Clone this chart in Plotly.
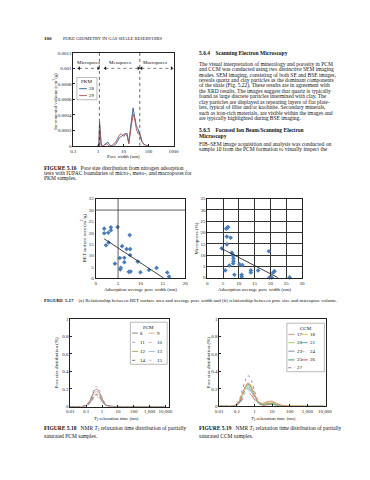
import math
import numpy as np
import plotly.graph_objects as go

W, H = 370, 480
FONT = "Liberation Serif"
NB = "\u00a0"

# ---------------- Figure 5.16 (PKM pore size distribution) ----------------
pore_width_nm = [0.9, 1.05, 1.12, 1.2, 1.3, 1.6, 2.0, 2.4, 2.7, 3.2, 4.0, 4.9, 5.8, 6.7, 8.0, 9.5,
                 10.5, 12.0, 14.1, 16.4, 19.0, 22.0, 24.3, 28.0, 32.8, 38.0, 47.0, 55.0, 64.0, 78.0, 100.0]
pkm_28 = [0, 0, 0.00031, 0.00018, 0.0, 0.0, 0.00003, 0.00005, 0.00002, 0.0, 0.0, 0.00002, 0.00006, 0.0001,
          0.00012, 0.00014, 0.00015, 0.00016, 0.00016, 0.00003, 0.00022, 0.00042, 0.00049, 0.00038, 0.00026,
          0.00022, 0.0001, 0.00005, 0.00003, 0.0, 0]
pkm_29 = [0, 0, 0.00026, 0.00012, 0.00002, 0.0, 0.00003, 0.00001, 0.0, 0.0, 0.00002, 0.00005, 0.0001, 0.00013,
          0.00016, 0.00014, 0.00012, 0.00015, 0.00013, 0.00003, 0.00018, 0.00035, 0.00041, 0.00035, 0.00022,
          0.00016, 0.00015, 0.00006, 0.00002, 0.00001, 0]
pkm_names = ["28", "29"]
pkm_colors = ["#2f5f8a", "#a8505a"]
iupac_bounds_nm = [1.1, 45]
region_labels = ["Micropores", "Mesopores", "Macropores"]
region_label_x = [0.42, 7.5, 180]
region_label_y = 0.00107
arrow_start = [0.17, 1.9, 52]
arrow_end = [1.0, 40, 850]
arrow_level = 0.001
fig16_xticks = [0.1, 1, 10, 100, 1000]
fig16_xticktext = ["0.1", "1", "10", "100", "1000"]
fig16_yticks = [0, 0.0002, 0.0004, 0.0006, 0.0008, 0.001, 0.0012]
fig16_yticktext = ["0", "0.0002", "0.0004", "0.0006", "0.0008", "0.001", "0.0012"]

# ---------------- Figure 5.17 (a) BET area vs pore width ----------------
bet_width_nm = [1.9, 1.9, 2.8, 3.4, 3.4, 4.9, 7.6, 2.3, 2.9, 4.3, 5.4, 5.9, 6.4, 6.4, 6.9, 7.7, 7.7,
                5.5, 5.6, 7.4, 7.8, 9.4, 10.0, 11.9, 13.6, 16.0, 16.4]
bet_area_m2g = [21.8, 19.8, 20.0, 22.4, 21.1, 22.5, 19.0, 14.5, 15.7, 6.4, 8.9, 14.1, 9.0, 7.0, 12.8, 12.8, 10.2,
                3.9, 4.6, 2.8, 2.9, 7.3, 2.6, 3.6, 4.5, 2.5, 0.7]
# ---------------- Figure 5.17 (b) micropores vs pore width ----------------
micro_width_nm = [4.6, 6.0, 6.4, 6.6, 6.2, 7.4, 6.2, 7.8, 8.1, 8.2, 8.3, 8.3, 8.2, 7.0, 5.7, 8.6, 10.2, 11.1,
                  10.9, 10.9, 13.8, 13.8, 16.1, 19.5, 19.7, 20.4, 20.9, 21.3, 26.1]
micro_pct = [13.0, 21.7, 22.3, 22.4, 18.2, 17.7, 14.8, 11.1, 10.2, 9.7, 8.5, 7.3, 6.3, 5.4, 3.2, 1.3, 5.9, 5.6,
             1.3, 0.4, 3.2, 2.3, 3.2, 11.7, 0.1, 0.1, 2.3, 2.9, 0.1]

# ---------------- Figure 5.18 (PCM NMR) ----------------
pcm_t2_ms = [0.01, 0.05, 0.07, 0.1, 0.15, 0.2, 0.3, 0.4, 0.5, 0.7, 1, 1.5, 2, 5, 10, 100, 1000, 10000]
pcm_names = ["8", "9", "11", "10", "12", "13", "14", "15"]
pcm_values = {
    "10": [0, 0.001, 0.004, 0.016, 0.055, 0.106, 0.191, 0.227, 0.226, 0.181, 0.106, 0.039, 0.015, 0.001, 0, 0, 0, 0],
    "8":  [0, 0.001, 0.003, 0.014, 0.048, 0.092, 0.166, 0.197, 0.197, 0.157, 0.092, 0.034, 0.013, 0.001, 0, 0, 0, 0],
    "9":  [0, 0.001, 0.003, 0.012, 0.041, 0.078, 0.141, 0.168, 0.167, 0.133, 0.078, 0.029, 0.011, 0.001, 0, 0, 0, 0],
    "12": [0, 0, 0.002, 0.011, 0.036, 0.069, 0.125, 0.148, 0.148, 0.118, 0.069, 0.026, 0.010, 0.001, 0, 0, 0, 0],
    "14": [0, 0, 0.002, 0.010, 0.034, 0.064, 0.116, 0.138, 0.138, 0.110, 0.064, 0.024, 0.009, 0.001, 0, 0, 0, 0],
    "11": [0, 0, 0.002, 0.009, 0.031, 0.060, 0.108, 0.128, 0.128, 0.102, 0.060, 0.022, 0.009, 0.001, 0, 0, 0, 0],
    "13": [0, 0, 0.002, 0.008, 0.029, 0.055, 0.100, 0.118, 0.118, 0.094, 0.055, 0.020, 0.008, 0.001, 0, 0, 0, 0],
    "15": [0, 0, 0.002, 0.008, 0.026, 0.051, 0.091, 0.108, 0.108, 0.086, 0.051, 0.019, 0.007, 0.001, 0, 0, 0, 0],
}
pcm_colors = {"8": "#7a7a7a", "9": "#f0a07c", "10": "#e49a9a", "11": "#9a9a9a",
              "12": "#a4a050", "13": "#8fb2d4", "14": "#606060", "15": "#c4c4c4"}
pcm_dash = {"8": "solid", "9": "solid", "10": "dot", "11": "dot",
            "12": "dash", "13": "dash", "14": "dot", "15": "dot"}

# ---------------- Figure 5.19 (CCM NMR) ----------------
ccm_t2_ms = [0.01, 0.03, 0.05, 0.07, 0.1, 0.15, 0.2, 0.3, 0.4, 0.5, 0.7, 1, 1.5, 2, 3, 5, 7, 10, 15, 20, 30,
             50, 100, 200, 500, 1000, 10000]
ccm_names = ["17", "18", "20", "21", "23", "24", "25", "26", "27"]
ccm_values = {
    "27": [0, 0.0002, 0.003, 0.010, 0.033, 0.100, 0.179, 0.296, 0.345, 0.345, 0.284, 0.179, 0.080, 0.042, 0.027,
           0.034, 0.039, 0.038, 0.030, 0.021, 0.010, 0.003, 0.0003, 0, 0, 0, 0],
    "18": [0, 0, 0.002, 0.007, 0.026, 0.077, 0.138, 0.229, 0.266, 0.266, 0.219, 0.139, 0.064, 0.038, 0.030,
           0.043, 0.049, 0.048, 0.037, 0.026, 0.013, 0.006, 0.008, 0.003, 0, 0, 0],
    "17": [0, 0, 0.002, 0.007, 0.025, 0.075, 0.133, 0.220, 0.257, 0.257, 0.211, 0.134, 0.063, 0.039, 0.035,
           0.052, 0.059, 0.058, 0.044, 0.031, 0.016, 0.005, 0.0, 0, 0, 0, 0],
    "25": [0, 0, 0.002, 0.007, 0.024, 0.072, 0.128, 0.212, 0.247, 0.247, 0.203, 0.128, 0.057, 0.031, 0.020,
           0.026, 0.030, 0.029, 0.022, 0.016, 0.008, 0.002, 0, 0, 0, 0, 0],
    "20": [0, 0, 0.002, 0.006, 0.023, 0.069, 0.122, 0.203, 0.237, 0.237, 0.195, 0.123, 0.057, 0.032, 0.024,
           0.034, 0.039, 0.038, 0.030, 0.021, 0.010, 0.003, 0, 0, 0, 0, 0],
    "21": [0, 0, 0.002, 0.006, 0.021, 0.063, 0.112, 0.186, 0.217, 0.217, 0.178, 0.113, 0.050, 0.028, 0.019,
           0.026, 0.030, 0.029, 0.022, 0.016, 0.008, 0.002, 0, 0, 0, 0, 0],
    "23": [0, 0, 0.001, 0.005, 0.019, 0.057, 0.102, 0.169, 0.197, 0.197, 0.162, 0.102, 0.045, 0.024, 0.014,
           0.017, 0.020, 0.019, 0.015, 0.010, 0.005, 0.002, 0, 0, 0, 0, 0],
    "24": [0, 0, 0.001, 0.005, 0.017, 0.052, 0.092, 0.152, 0.178, 0.178, 0.146, 0.093, 0.045, 0.029, 0.028,
           0.042, 0.049, 0.048, 0.037, 0.026, 0.013, 0.004, 0, 0, 0, 0, 0],
    "26": [0, 0, 0.001, 0.004, 0.014, 0.043, 0.077, 0.127, 0.148, 0.148, 0.122, 0.077, 0.034, 0.019, 0.013,
           0.017, 0.020, 0.019, 0.015, 0.010, 0.005, 0.002, 0, 0, 0, 0, 0],
}
ccm_colors = {"17": "#d4877a", "18": "#e6c243", "20": "#9cc65c", "21": "#3fa3b5", "23": "#7484a4",
              "24": "#b4b4b4", "25": "#2e8b57", "26": "#c0404e", "27": "#8464b4"}
ccm_dash = {"17": "solid", "18": "solid", "20": "solid", "21": "dashdot", "23": "dash",
            "24": "dot", "25": "dashdot", "26": "dash", "27": "dot"}

nmr_xticks = [0.01, 0.1, 1, 10, 100, 1000, 10000]
nmr_xticktext = ["0.01", "0.1", "1", "10", "100", "1,000", "10,000"]
nmr_yticks = [0, 0.2, 0.4, 0.6, 0.8, 1]
nmr_yticktext = ["0", "0.2", "0.4", "0.6", "0.8", "1"]

# ---------------- page text ----------------
body_lines_1 = [
    "The visual interpretation of mineralogy and porosity in PCM",
    "and CCM was conducted using two distinctive SEM imaging",
    "modes. SEM imaging, consisting of both SE and BSE images,",
    "reveals quartz and clay particles as the dominant components",
    "of the shale (Fig. 5.22). These results are in agreement with",
    "the XRD results. The images suggest that quartz is typically",
    "found as large discrete particles intermixed with clay. The",
    "clay particles are displayed as repeating layers of flat plate-",
    "lets, typical of illite and/or kaolinite. Secondary minerals,",
    "such as iron-rich materials, are visible within the images and",
    "are typically highlighted during BSE imaging.",
]
body_lines_2 = [
    "FIB\u2013SEM image acquisition and analysis was conducted on",
    "sample 10 from the PCM formation to visually inspect the",
]

# =====================================================================
def px(x):
    return x / W


def py(y):
    return 1 - y / H


annotations = []
shapes = []


def add_text(s, x, y, size=5.5, xanchor="left", angle=0, color="#111", xref="paper", yref="paper"):
    annotations.append(dict(
        text=s, x=px(x) if xref == "paper" else x, y=py(y) if yref == "paper" else y,
        xref=xref, yref=yref, showarrow=False, xanchor=xanchor, yanchor="middle",
        textangle=angle, borderpad=0, font=dict(family=FONT, size=size, color=color)))


def axis(domain, **kw):
    d = dict(domain=domain, showline=True, linecolor="#222", linewidth=0.7, mirror=True,
             ticks="outside", ticklen=2, tickwidth=0.6, tickcolor="#222",
             tickfont=dict(family=FONT, size=5, color="#222"), showgrid=False, zeroline=False)
    d.update(kw)
    return d


fig = go.Figure()

# ---- Fig 5.16 traces
for name, vals, col in zip(pkm_names, [pkm_28, pkm_29], pkm_colors):
    fig.add_trace(go.Scatter(x=pore_width_nm, y=vals, mode="lines", line=dict(color=col, width=0.9),
                             xaxis="x", yaxis="y", showlegend=False, name=name))
for b in iupac_bounds_nm:
    fig.add_trace(go.Scatter(x=[b, b], y=[0, fig16_yticks[-1]], mode="lines",
                             line=dict(color="#222", width=0.7, dash="dot"),
                             xaxis="x", yaxis="y", showlegend=False))
for a0, a1 in zip(arrow_start, arrow_end):
    fig.add_trace(go.Scatter(x=[a0, a1], y=[arrow_level, arrow_level], mode="lines+markers",
                             line=dict(color="#222", width=0.6, dash="dot"),
                             marker=dict(symbol=["triangle-left", "triangle-right"], size=3.5, color="#222"),
                             xaxis="x", yaxis="y", showlegend=False, cliponaxis=False))
for lab, lx in zip(region_labels, region_label_x):
    add_text(lab, math.log10(lx), region_label_y, size=5, xanchor="center", xref="x", yref="y")

# ---- Fig 5.17 (a)
fig.add_trace(go.Scatter(x=bet_width_nm, y=bet_area_m2g, mode="markers",
                         marker=dict(symbol="diamond", size=3.6, color="#4a7ebb"),
                         xaxis="x2", yaxis="y2", showlegend=False, cliponaxis=False))
k, c = np.polyfit(bet_width_nm, bet_area_m2g, 1)
xa = [min(bet_width_nm), -c / k]
fig.add_trace(go.Scatter(x=xa, y=[k * v + c for v in xa], mode="lines", line=dict(color="#111", width=0.8),
                         xaxis="x2", yaxis="y2", showlegend=False))
# ---- Fig 5.17 (b)
fig.add_trace(go.Scatter(x=micro_width_nm, y=micro_pct, mode="markers",
                         marker=dict(symbol="diamond", size=3.6, color="#4a7ebb"),
                         xaxis="x3", yaxis="y3", showlegend=False, cliponaxis=False))
k2, c2 = np.polyfit(micro_width_nm, micro_pct, 1)
xb = [min(micro_width_nm), -c2 / k2]
fig.add_trace(go.Scatter(x=xb, y=[k2 * v + c2 for v in xb], mode="lines", line=dict(color="#111", width=0.8),
                         xaxis="x3", yaxis="y3", showlegend=False))

# ---- Fig 5.18
for n in reversed(pcm_names):
    fig.add_trace(go.Scatter(x=pcm_t2_ms, y=pcm_values[n], mode="lines", line_shape="spline",
                             line=dict(color=pcm_colors[n], width=0.8, dash=pcm_dash[n], smoothing=0.8),
                             xaxis="x4", yaxis="y4", showlegend=False, name=n))
# ---- Fig 5.19
for n in reversed(ccm_names):
    fig.add_trace(go.Scatter(x=ccm_t2_ms, y=ccm_values[n], mode="lines", line_shape="spline",
                             line=dict(color=ccm_colors[n], width=0.8, dash=ccm_dash[n], smoothing=0.8),
                             xaxis="x5", yaxis="y5", showlegend=False, name=n))

# ---- manual legends
def legend_box(box, title, tpos, names, colors, dashes, cols, rows_y, lw=0.9):
    x0, y0, x1, y1 = box
    shapes.append(dict(type="rect", xref="paper", yref="paper", x0=px(x0), x1=px(x1), y0=py(y1), y1=py(y0),
                       line=dict(color="#8a8a8a", width=0.6), fillcolor="white", layer="above"))
    add_text(title, tpos[0], tpos[1], size=5, xanchor="center")
    for i, n in enumerate(names):
        cx0, cx1, tx = cols[i % len(cols)]
        yy = rows_y[i // len(cols)]
        shapes.append(dict(type="line", xref="paper", yref="paper", x0=px(cx0), x1=px(cx1), y0=py(yy), y1=py(yy),
                           line=dict(color=colors[i], width=lw, dash=dashes[i]), layer="above"))
        add_text(n, tx, yy, size=5)


legend_box((66.7, 68.3, 87.3, 90.7), "PKM", (76.7, 72), pkm_names, pkm_colors, ["solid", "solid"],
           [(69, 77, 78.5)], [79.5, 86.5])
legend_box((121.7, 315.5, 159.5, 358), "PCM", (140.5, 320.5), pcm_names,
           [pcm_colors[n] for n in pcm_names], [pcm_dash[n] for n in pcm_names],
           [(123.5, 129.5, 131), (140.5, 146.5, 148)], [326.5, 335.8, 345, 354])
legend_box((282.5, 316.5, 321, 365.5), "CCM", (301.7, 321.7), ccm_names,
           [ccm_colors[n] for n in ccm_names], [ccm_dash[n] for n in ccm_names],
           [(284, 290.5, 292), (297.5, 304, 305.5)], [327.8, 336.2, 344.8, 353.6, 361.5])

# left middle chart crosshair gridlines
shapes.append(dict(type="line", xref="x2", yref="y2", x0=5, x1=5, y0=0, y1=35, line=dict(color="#333", width=0.8)))
shapes.append(dict(type="line", xref="x2", yref="y2", x0=0, x1=20, y0=30, y1=30, line=dict(color="#333", width=0.8)))

# ---- axis titles
add_text("Incremental volume (cm<sup>3</sup>/g)", 44, 92, size=5, xanchor="center", angle=-90)
add_text("Pore width (nm)", 114.5, 148.5, size=5, xanchor="center")
add_text("BET surface area (m<sup>2</sup>/g)", 73, 231, size=5, xanchor="center", angle=-90)
add_text("Adsorption average pore width (nm)", 132, 282.7, size=5, xanchor="center")
add_text("Micropores (%)", 190, 231, size=5, xanchor="center", angle=-90)
add_text("Adsorption average pore width (nm)", 249, 282.7, size=5, xanchor="center")
add_text("Pore size distribution (%)", 45.5, 356, size=5, xanchor="center", angle=-90)
add_text("<i>T</i><sub>2</sub> relaxation time (ms)", 107, 413, size=4.8, xanchor="center")
add_text("Pore size distribution (%)", 201.5, 356, size=5, xanchor="center", angle=-90)
add_text("<i>T</i><sub>2</sub> relaxation time (ms)", 268.5, 413, size=4.8, xanchor="center")

# ---- page text
add_text("<b>100</b>", 32, 29.3, size=5)
add_text("PORE GEOMETRY IN GAS SHALE RESERVOIRS", 51.7, 29.3, size=4.6)
add_text("<b>5.6.4" + NB * 4 + "Scanning Electron Microscopy</b>", 191.5, 43.3, size=5.5)
for i, ln in enumerate(body_lines_1):
    add_text(ln, 191.5, 54.3 + i * 5.5, size=5.5)
add_text("<b>5.6.5" + NB * 4 + "Focused Ion Beam/Scanning Electron</b>", 191.5, 121.7, size=5.5)
add_text("<b>Microscopy</b>", 191.5, 127, size=5.5)
for i, ln in enumerate(body_lines_2):
    add_text(ln, 191.5, 135.3 + i * 5.5, size=5.5)

add_text("<b>FIGURE 5.16</b>" + NB * 3 + "Pore size distribution from nitrogen adsorption", 32, 159.3, size=5.5)
add_text("tests with IUPAC boundaries of micro-, meso-, and macropores for", 32, 164.5, size=5.5)
add_text("PKM samples.", 32, 169.7, size=5.5)
add_text("<b>FIGURE 5.17</b>" + NB * 4 + "(a) Relationship between BET surface area and average pore width and (b) relationship between pore size and micropore volume.",
         32, 293.3, size=5)
add_text("<b>FIGURE 5.18</b>" + NB * 3 + "NMR <i>T</i><sub>2</sub> relaxation time distribution of partially", 32, 422.7, size=5.5)
add_text("saturated PCM samples.", 32, 430, size=5.5)
add_text("<b>FIGURE 5.19</b>" + NB * 3 + "NMR <i>T</i><sub>2</sub> relaxation time distribution of partially", 191.5, 423.3, size=5.5)
add_text("saturated CCM samples.", 191.5, 430.7, size=5.5)

fig.update_layout(
    width=W, height=H, margin=dict(l=0, r=0, t=0, b=0),
    paper_bgcolor="white", plot_bgcolor="white", showlegend=False,
    font=dict(family=FONT, size=5, color="#111"),
    xaxis=axis([px(63), px(166)], type="log", range=[-1, 3], tickvals=fig16_xticks, ticktext=fig16_xticktext,
               anchor="y", ticks="inside"),
    yaxis=axis([py(137.3), py(43.3)], range=[0, 0.0012], tickvals=fig16_yticks, ticktext=fig16_yticktext,
               anchor="x", ticks="inside"),
    xaxis2=axis([px(86), px(178)], range=[0, 20], dtick=5, anchor="y2", ticks=""),
    yaxis2=axis([py(271), py(190.7)], range=[0, 35], dtick=5, anchor="x2", ticks=""),
    xaxis3=axis([px(200.7), px(298)], range=[0, 30], dtick=5, anchor="y3", ticks="",
                showgrid=True, gridcolor="#333", gridwidth=0.7),
    yaxis3=axis([py(270.5), py(190.7)], range=[0, 35], dtick=5, anchor="x3", ticks="",
                showgrid=True, gridcolor="#333", gridwidth=0.7),
    xaxis4=axis([px(60), px(161)], type="log", range=[-2, 4.2], tickvals=nmr_xticks, ticktext=nmr_xticktext,
                anchor="y4", ticks="inside"),
    yaxis4=axis([py(400.7), py(312)], range=[0, 1], tickvals=nmr_yticks, ticktext=nmr_yticktext, anchor="x4",
                ticks="inside"),
    xaxis5=axis([px(213), px(322.5)], type="log", range=[-2, 4.05], tickvals=nmr_xticks, ticktext=nmr_xticktext,
                anchor="y5", ticks="inside"),
    yaxis5=axis([py(400.5), py(312)], range=[0, 1], tickvals=nmr_yticks, ticktext=nmr_yticktext, anchor="x5",
                ticks="inside"),
    annotations=annotations,
    shapes=shapes,
)

fig.write_html("out.html")
